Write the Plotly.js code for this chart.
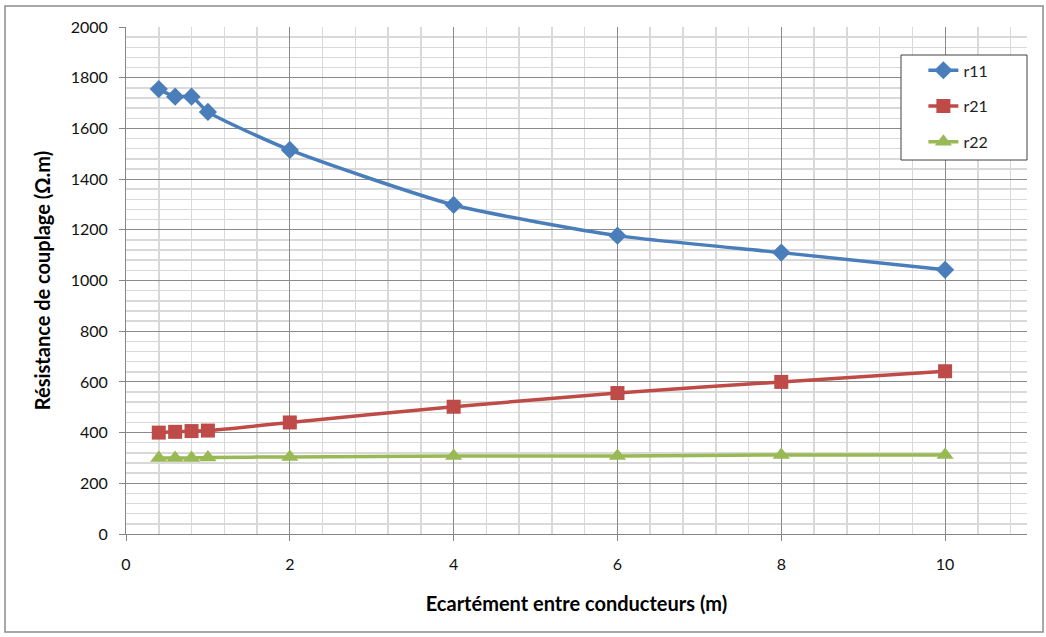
<!DOCTYPE html>
<html>
<head>
<meta charset="utf-8">
<script src="https://cdn.plot.ly/plotly-3.0.1.min.js"></script>
<style>html,body{margin:0;padding:0;background:#fff;}#chart{width:1046px;height:637px;}</style>
</head>
<body>
<div id="chart"></div>
<script>
const ecartement = [0.4, 0.6, 0.8, 1, 2, 4, 6, 8, 10];
const r11 = [1755, 1725, 1725, 1665, 1515, 1298, 1177, 1110, 1042];
const r21 = [400, 403, 406, 408, 440, 502, 556, 600, 642];
const r22 = [300, 300, 300, 302, 304, 308, 308, 312, 312];
const seriesNames = ['r11', 'r21', 'r22'];
const xTitle = 'Ecartément entre conducteurs (m)';
const yTitle = 'Résistance de couplage (Ω.m)';

const FONT = 'Lato, "Open Sans", sans-serif';
const colors = ['#4A7EBB', '#BE4B48', '#98B954'];
const symbols = ['diamond', 'square', 'triangle-up'];
const sizes = [14, 14, 15];
const allY = [r11, r21, r22];

const traces = allY.map((ys, i) => ({
  x: ecartement, y: ys, name: seriesNames[i], type: 'scatter', mode: 'lines+markers',
  legendgroup: seriesNames[i],
  line: {color: colors[i], width: 3.5, shape: 'spline', smoothing: 0.6},
  marker: {color: colors[i], symbol: symbols[i], size: sizes[i]}
}));

const gridMajor = '#8a8a8a', gridMinor = '#d9d9d9';
const layout = {
  width: 1046, height: 637,
  margin: {l: 126, r: 19, t: 27, b: 103},
  paper_bgcolor: '#fff', plot_bgcolor: '#fff',
  font: {family: FONT, size: 16, color: '#000'},
  showlegend: true,
  legend: {x: 0.885, y: 0.948, xanchor: 'left', yanchor: 'top', bgcolor: 'rgba(0,0,0,0)',
           borderwidth: 0, font: {family: FONT, size: 16, color: '#222'}, tracegroupgap: 12},
  xaxis: {
    range: [0, 11], dtick: 2, tick0: 0, showgrid: true, gridcolor: gridMajor, gridwidth: 1,
    minor: {dtick: 0.4, tick0: 0, showgrid: true, gridcolor: gridMinor, gridwidth: 1.5},
    showline: true, linecolor: '#868686', linewidth: 1,
    ticks: 'outside', ticklen: 6, tickcolor: '#868686', ticklabelstandoff: 10,
    zeroline: false, automargin: false, fixedrange: true,
    tickfont: {family: FONT, size: 16, color: '#111'},
    title: {text: xTitle, font: {family: FONT, size: 20, color: '#000', weight: 'bold'}, standoff: 24}
  },
  yaxis: {
    range: [0, 2000], dtick: 200, tick0: 0, showgrid: true, gridcolor: gridMajor, gridwidth: 1,
    minor: {dtick: 40, tick0: 0, showgrid: true, gridcolor: gridMinor, gridwidth: 1.5},
    showline: true, linecolor: '#868686', linewidth: 1,
    ticks: 'outside', ticklen: 6, tickcolor: '#868686', ticklabelstandoff: 8,
    zeroline: false, automargin: false, fixedrange: true,
    tickfont: {family: FONT, size: 16, color: '#111'},
    title: {text: yTitle, font: {family: FONT, size: 20, color: '#000', weight: 'bold'}, standoff: 14}
  },
  shapes: [
    {type: 'rect', xref: 'paper', yref: 'paper', x0: -0.1343, x1: 1.0178, y0: -0.1933, y1: 1.0414,
     line: {color: '#8c8c8c', width: 1.5}, fillcolor: 'rgba(0,0,0,0)', layer: 'below'},
    {type: 'rect', xref: 'paper', yref: 'paper', x0: (901-126)/901, x1: (1027-126)/901,
     y0: (534-160)/507, y1: (534-55)/507,
     line: {color: '#404040', width: 1}, fillcolor: '#ffffff', layer: 'above'}
  ]
};

Plotly.newPlot('chart', traces, layout, {staticPlot: true, displayModeBar: false});
</script>
</body>
</html>
